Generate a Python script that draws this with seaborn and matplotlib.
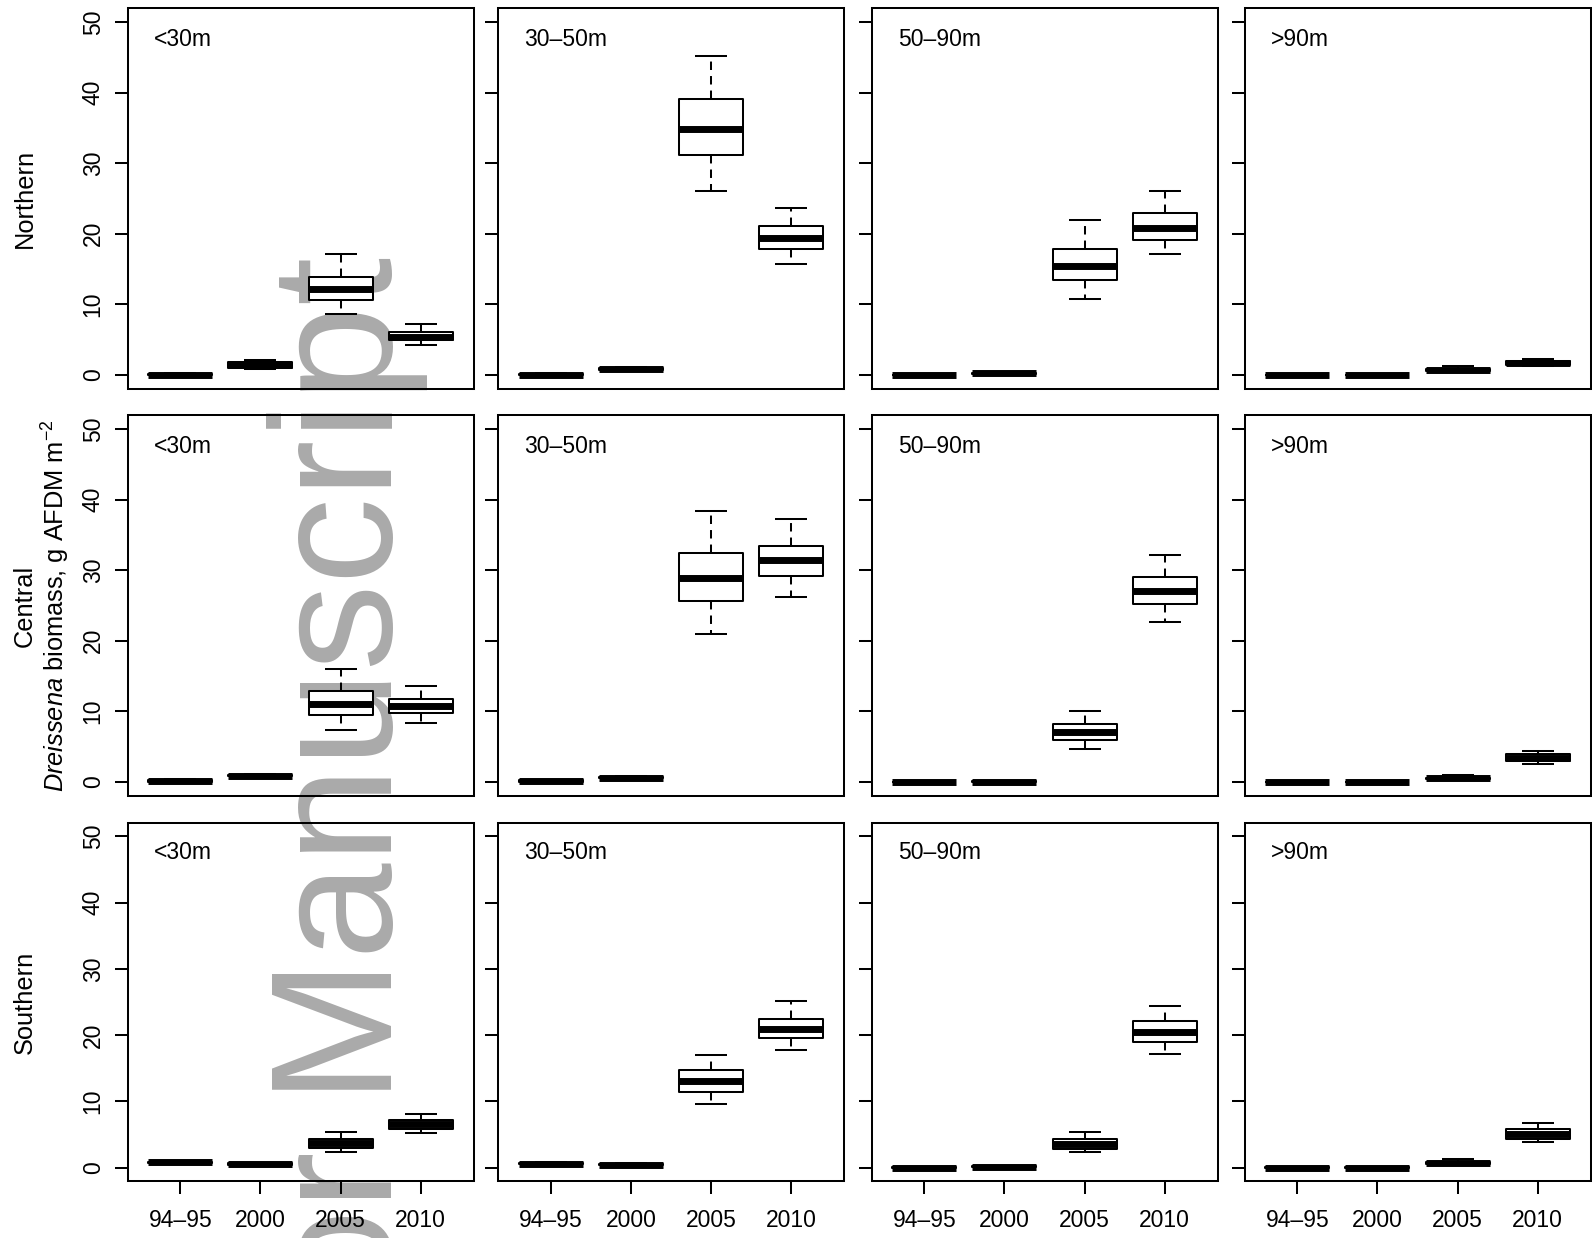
import numpy as np
import pandas as pd
import matplotlib
matplotlib.use("Agg")
import matplotlib.pyplot as plt
import seaborn as sns

# Categories
YEARS = ["94\u201395", "2000", "2005", "2010"]
DEPTHS = ["<30m", "30\u201350m", "50\u201390m", ">90m"]
REGIONS = ["Northern", "Central", "Southern"]

# Five-number summaries (rows: depth zones, columns: survey years), g AFDM m^-2
north_low = [[0.0, 0.9, 8.6, 4.2], [0.0, 0.6, 26.0, 15.7], [0.0, 0.05, 10.7, 17.1], [0.0, 0.0, 0.45, 1.3]]
north_q1 = [[0.0, 1.0, 10.6, 4.9], [0.0, 0.7, 31.1, 17.9], [0.0, 0.1, 13.5, 19.1], [0.0, 0.0, 0.55, 1.4]]
north_med = [[0.05, 1.4, 12.2, 5.4], [0.05, 0.85, 34.9, 19.4], [0.0, 0.2, 15.5, 20.8], [0.0, 0.0, 0.7, 1.65]]
north_q3 = [[0.1, 1.8, 13.9, 6.1], [0.1, 1.0, 39.1, 21.1], [0.05, 0.3, 17.9, 22.9], [0.05, 0.05, 0.85, 1.9]]
north_high = [[0.2, 2.1, 17.1, 7.2], [0.2, 1.1, 45.2, 23.7], [0.1, 0.4, 22.0, 26.0], [0.1, 0.1, 1.2, 2.3]]

central_low = [[0.0, 0.7, 7.4, 8.4], [0.0, 0.4, 21.0, 26.2], [0.0, 0.0, 4.6, 22.7], [0.0, 0.0, 0.35, 2.5]]
central_q1 = [[0.05, 0.8, 9.5, 9.7], [0.05, 0.5, 25.6, 29.2], [0.0, 0.0, 6.0, 25.2], [0.0, 0.0, 0.4, 2.9]]
central_med = [[0.15, 0.9, 11.0, 10.8], [0.1, 0.6, 28.9, 31.5], [0.0, 0.05, 7.1, 27.0], [0.0, 0.0, 0.5, 3.35]]
central_q3 = [[0.25, 1.0, 12.9, 11.8], [0.2, 0.7, 32.4, 33.5], [0.05, 0.1, 8.2, 29.1], [0.05, 0.05, 0.6, 3.9]]
central_high = [[0.35, 1.1, 16.0, 13.6], [0.3, 0.8, 38.4, 37.3], [0.1, 0.15, 10.1, 32.2], [0.1, 0.1, 0.95, 4.4]]

south_low = [[0.6, 0.35, 2.4, 5.2], [0.4, 0.25, 9.6, 17.7], [0.0, 0.0, 2.4, 17.1], [0.0, 0.0, 0.4, 3.9]]
south_q1 = [[0.7, 0.45, 3.0, 5.9], [0.5, 0.35, 11.5, 19.5], [0.0, 0.05, 2.9, 19.0], [0.0, 0.0, 0.55, 4.4]]
south_med = [[0.8, 0.55, 3.7, 6.6], [0.6, 0.45, 13.1, 21.0], [0.0, 0.1, 3.6, 20.5], [0.0, 0.0, 0.65, 5.1]]
south_q3 = [[0.9, 0.65, 4.4, 7.2], [0.7, 0.55, 14.7, 22.5], [0.05, 0.2, 4.3, 22.2], [0.05, 0.05, 0.8, 5.8]]
south_high = [[1.0, 0.75, 5.4, 8.1], [0.8, 0.65, 17.0, 25.2], [0.1, 0.3, 5.35, 24.4], [0.1, 0.1, 1.35, 6.7]]

SUMMARIES = {
    "Northern": (north_low, north_q1, north_med, north_q3, north_high),
    "Central": (central_low, central_q1, central_med, central_q3, central_high),
    "Southern": (south_low, south_q1, south_med, south_q3, south_high),
}

# Long table: the five summary values per box reproduce the box exactly
# (quartiles of five points, whiskers spanning min..max).
records = []
for region, stats in SUMMARIES.items():
    for di, depth in enumerate(DEPTHS):
        for yi, year in enumerate(YEARS):
            for s in stats:
                records.append({"region": region, "depth": depth, "year": year,
                                "biomass": s[di][yi]})
df = pd.DataFrame.from_records(records)

sns.set_theme(style="ticks")
plt.rcParams["font.family"] = ["Liberation Sans", "DejaVu Sans"]
plt.rcParams["mathtext.fontset"] = "custom"
plt.rcParams["mathtext.rm"] = "Liberation Sans"
plt.rcParams["mathtext.it"] = "Liberation Sans:italic"
plt.rcParams["axes.linewidth"] = 1.45
plt.rcParams["axes.edgecolor"] = "black"

W, H = 1592, 1238
fig = plt.figure(figsize=(W / 100, H / 100), dpi=100)
fig.patch.set_facecolor("white")

# Background watermark
fig.text(392 / W, 1 - 257 / H, "Author Manuscript", rotation=90,
         rotation_mode="anchor", ha="right", va="baseline",
         fontsize=124.6, color="#aaaaaa", zorder=-5)

col_left = [127.5, 498, 871.5, 1244.5]
col_w = 346
row_top = [8, 415, 823]
row_bot = [389, 796, 1181]

LW = 1.45
FS = 16.5

for ri, region in enumerate(REGIONS):
    for ci, depth in enumerate(DEPTHS):
        l = col_left[ci]
        t, b = row_top[ri], row_bot[ri]
        ax = fig.add_axes([l / W, 1 - b / H, col_w / W, (b - t) / H])
        ax.set_facecolor("none")
        sub = df[(df.region == region) & (df.depth == depth)]
        sns.boxplot(data=sub, x="year", y="biomass", order=YEARS, ax=ax,
                    whis=(0, 100), width=0.8, color="white", saturation=1,
                    linecolor="black", linewidth=LW, fliersize=0,
                    boxprops=dict(joinstyle="round"),
                    medianprops=dict(linewidth=5, solid_capstyle="butt"),
                    whiskerprops=dict(linestyle=(0, (4.2, 3.0))),
                    capprops=dict(solid_capstyle="butt"))
        ax.set_xlim(-0.66, 3.66)
        ax.set_ylim(-2, 52)
        ax.set_yticks(range(0, 51, 10))
        ax.set_xlabel("")
        ax.set_ylabel("")
        for sp in ax.spines.values():
            sp.set_visible(True)
            sp.set_linewidth(LW)
            sp.set_color("black")
        ax.tick_params(direction="out", length=9.4, width=LW, color="black",
                       labelsize=FS, labelcolor="black")
        ax.tick_params(axis="y", labelrotation=90, pad=7)
        ax.tick_params(axis="x", pad=11)
        for tk in ax.yaxis.get_major_ticks():
            tk.label1.set_verticalalignment("center")
        if ci > 0:
            ax.tick_params(axis="y", labelleft=False)
        if ri < 2:
            ax.tick_params(axis="x", bottom=False, labelbottom=False)
        ax.text(-0.33, 47.5, depth, ha="left", va="center", fontsize=FS,
                color="black")

# Row labels and the shared y-axis title
row_centers = [(row_top[i] + row_bot[i]) / 2 for i in range(3)]
for ri, region in enumerate(REGIONS):
    fig.text(32 / W, 1 - row_centers[ri] / H, region, rotation=90,
             rotation_mode="anchor", ha="center", va="baseline",
             fontsize=18.3, color="black")
fig.text(65 / W, 1 - row_centers[1] / H,
         r"$\it{Dreissena}$ biomass, g AFDM m$^{-2}$", rotation=90,
         rotation_mode="anchor", ha="center", va="baseline",
         fontsize=18.3, color="black")

fig.savefig("out.png", dpi=100, facecolor="white")
